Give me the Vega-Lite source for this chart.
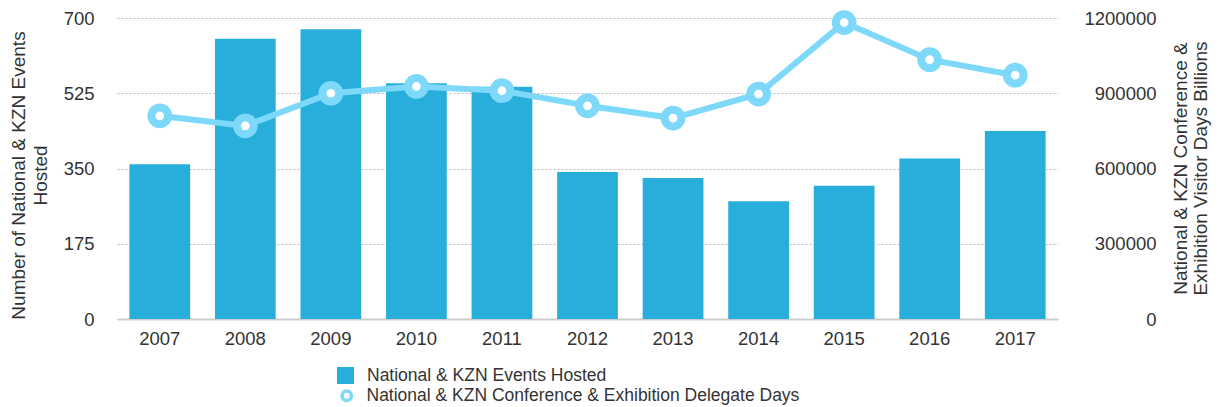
{
  "$schema": "https://vega.github.io/schema/vega-lite/v6.json",
  "autosize": {"type": "none"},
  "padding": {"left": 117, "top": 18, "right": 161, "bottom": 88},
  "width": 941,
  "height": 301,
  "background": "white",
  "config": {
    "view": {"stroke": null},
    "font": "Liberation Sans",
    "axis": {"labelFont": "Liberation Sans", "titleFont": "Liberation Sans", "labelColor": "#333333", "titleColor": "#333333", "titleFontWeight": "normal", "labelFontSize": 18.5, "titleFontSize": 19, "ticks": false},
    "legend": {"labelFont": "Liberation Sans", "labelFontSize": 17.5, "labelColor": "#333333", "labelLimit": 700}
  },
  "data": {
    "values": [
      {"year": "2007", "events": 360, "days": 810000},
      {"year": "2008", "events": 652, "days": 770000},
      {"year": "2009", "events": 674, "days": 900000},
      {"year": "2010", "events": 548, "days": 927000},
      {"year": "2011", "events": 540, "days": 910000},
      {"year": "2012", "events": 342, "days": 850000},
      {"year": "2013", "events": 328, "days": 801000},
      {"year": "2014", "events": 274, "days": 897000},
      {"year": "2015", "events": 310, "days": 1182000},
      {"year": "2016", "events": 373, "days": 1034000},
      {"year": "2017", "events": 437, "days": 972000}
    ]
  },
  "encoding": {
    "x": {
      "field": "year", "type": "ordinal",
      "scale": {"paddingInner": 0.29, "paddingOuter": 0.145},
      "axis": {"title": null, "labelAngle": 0, "labelPadding": 10, "domainColor": "#cccccc", "domainWidth": 2, "grid": false}
    }
  },
  "layer": [
    {
      "mark": {"type": "bar", "color": "#27aedb"},
      "encoding": {
        "y": {
          "field": "events", "type": "quantitative",
          "scale": {"domain": [0, 700], "nice": false},
          "axis": {
            "title": ["Number of National & KZN Events", "Hosted"],
            "titleAngle": -90, "titleX": -99, "titleY": 157, "titleAlign": "center", "titleBaseline": "middle", "titleLineHeight": 22,
            "values": [0, 175, 350, 525, 700], "labelPadding": 23, "domain": false,
            "grid": true, "gridDash": [2, 2], "gridColor": "#bbbbbb", "gridWidth": 1
          }
        },
        "color": {"datum": "National & KZN Events Hosted", "type": "nominal",
          "scale": {"range": ["#27aedb"]},
          "legend": {
            "title": null, "orient": "none", "legendX": 219, "legendY": 348,
            "symbolType": "square", "symbolSize": 290, "labelOffset": 12, "symbolOpacity": 1
          }
        }
      }
    },
    {
      "encoding": {
        "y": {
          "field": "days", "type": "quantitative",
          "scale": {"domain": [0, 1200000], "nice": false},
          "axis": {
            "orient": "right", "format": "d",
            "title": ["National & KZN Conference &", "Exhibition Visitor Days Billions"],
            "titleAngle": -90, "titleX": 122, "titleY": 150, "titleAlign": "center", "titleBaseline": "middle", "titleLineHeight": 20,
            "values": [0, 300000, 600000, 900000, 1200000], "labelAlign": "right", "labelPadding": 98, "domain": false, "grid": false
          }
        }
      },
      "layer": [
        {
          "mark": {"type": "line", "strokeWidth": 6},
          "encoding": {
            "stroke": {"datum": "National & KZN Conference & Exhibition Delegate Days", "type": "nominal",
              "scale": {"range": ["#7dd8fa"]},
              "legend": {
                "title": null, "orient": "none", "legendX": 221, "legendY": 369,
                "symbolType": "circle", "symbolSize": 90, "symbolStrokeWidth": 3.5, "symbolFillColor": "white", "labelOffset": 11, "symbolOpacity": 1
              }
            }
          }
        },
        {
          "mark": {"type": "point", "shape": "circle", "filled": true, "fill": "white", "stroke": "#7dd8fa", "strokeWidth": 8, "size": 280, "opacity": 1, "fillOpacity": 1, "strokeOpacity": 1}
        }
      ]
    }
  ],
  "resolve": {"scale": {"y": "independent", "color": "independent", "stroke": "independent"}}
}
